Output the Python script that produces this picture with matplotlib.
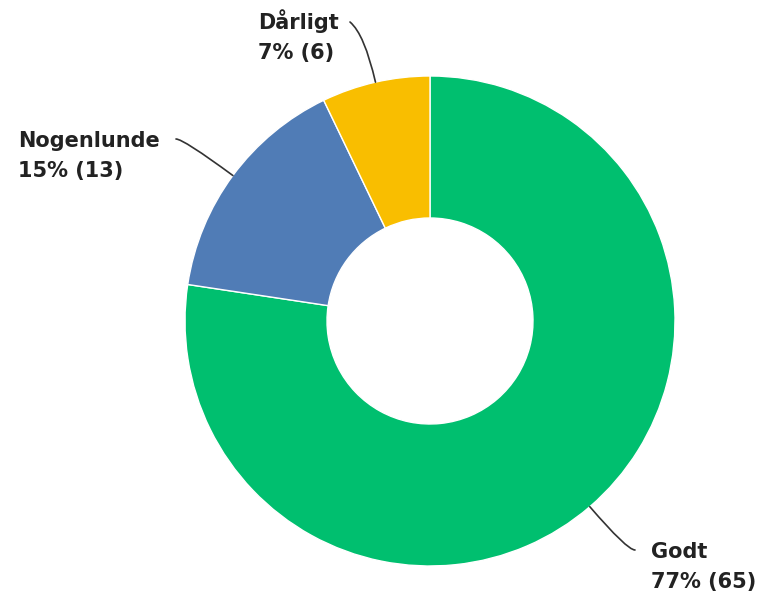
import numpy as np
import matplotlib.pyplot as plt

labels = ["Godt", "Nogenlunde", "Dårligt"]
counts = [65, 13, 6]
percents = [77, 15, 7]
colors = ["#00BF6F", "#507CB6", "#F9BE00"]

W, H = 763, 598
cx, cy = 430, H - 321
R = 245
hole = 103

fig = plt.figure(figsize=(W / 100, H / 100), dpi=100)
ax = fig.add_axes([0, 0, 1, 1])

wedges, _ = ax.pie(counts, colors=colors, startangle=90, counterclock=False,
                   center=(cx, cy), radius=R, frame=True,
                   wedgeprops=dict(width=R - hole, edgecolor="white", linewidth=1))
ax.set_xlim(0, W)
ax.set_ylim(0, H)
ax.set_aspect("equal")
ax.axis("off")

# label text anchor (left, top of first line) and end of the leader line
text_pos = [(651, H - 542), (18, H - 131), (258, H - 9)]
line_end = [(635, H - 550), (176, H - 139), (350, H - 22)]
angleA = [0, 0, -40]

for w, lab, n, p, tp, le, aa in zip(wedges, labels, counts, percents,
                                     text_pos, line_end, angleA):
    mid = np.deg2rad((w.theta1 + w.theta2) / 2)
    edge = (cx + R * np.cos(mid), cy + R * np.sin(mid))
    ax.annotate("", xy=edge, xytext=le,
                arrowprops=dict(arrowstyle="-", color="#333333", lw=1.2,
                                shrinkA=0, shrinkB=0,
                                connectionstyle=f"angle3,angleA={aa},angleB={np.rad2deg(mid):.1f}"))
    ax.text(tp[0], tp[1], f"{lab}\n{p}% ({n})", ha="left", va="top",
            fontsize=15, fontweight="bold", family="DejaVu Sans",
            color="#222222", linespacing=1.65)

fig.savefig("out.png", dpi=100)
